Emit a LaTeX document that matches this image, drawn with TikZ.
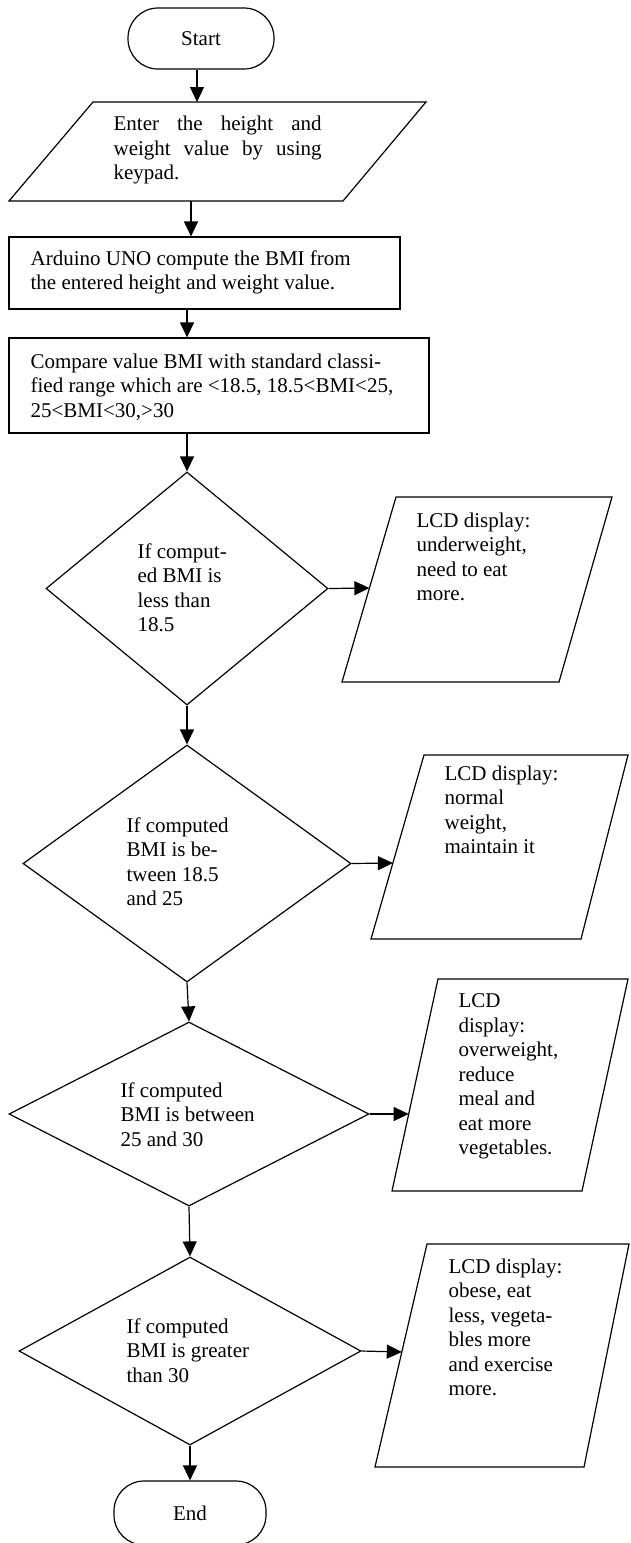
\documentclass[tikz,border=0pt]{standalone}
\usepackage{fontspec}
\setmainfont{Liberation Serif}
\usetikzlibrary{shapes.geometric,arrows.meta}
\begin{document}
\begin{tikzpicture}[x=1pt,y=-1pt,
  font=\fontsize{21}{24.5}\selectfont,
  line width=1.2pt,
  arr/.style={-{Triangle[length=15pt,width=14pt]}},
  term/.style={draw,rectangle,rounded corners=30pt,inner sep=0pt},
  proc/.style={draw,rectangle,inner sep=0pt},
  dec/.style={draw,diamond,inner sep=0pt},
  iobox/.style={line join=miter},
  txt/.style={anchor=north west,inner sep=0pt,align=left},
]
\useasboundingbox (0,0) rectangle (630,1543);

% terminals, processes, decisions
\node[term,minimum width=146pt,minimum height=61pt] (start) at (201,38.5) {Start};
\node[proc,minimum width=391pt,minimum height=72pt] (box1) at (204.5,273) {};
\node[proc,minimum width=420pt,minimum height=95pt] (box2) at (219,385.5) {};
\node[dec,minimum width=282pt,minimum height=233pt] (d1) at (187,588.5) {};
\node[dec,minimum width=328pt,minimum height=237pt] (d2) at (187,863.5) {};
\node[dec,minimum width=360pt,minimum height=184pt] (d3) at (189,1114) {};
\node[dec,minimum width=342pt,minimum height=188pt] (d4) at (190,1351) {};
\node[term,minimum width=152pt,minimum height=64pt] (end) at (190,1513) {End};

% input/output parallelograms
\coordinate (in-tl) at (93,102);  \coordinate (in-tr) at (426,102);
\coordinate (in-br) at (343,201); \coordinate (in-bl) at (9,201);
\draw[iobox] (in-tl) -- (in-tr) -- (in-br) -- (in-bl) -- cycle;
\coordinate (p1-tl) at (396,497); \coordinate (p1-tr) at (612,497);
\coordinate (p1-br) at (559,682); \coordinate (p1-bl) at (342,682);
\draw[iobox] (p1-tl) -- (p1-tr) -- (p1-br) -- (p1-bl) -- cycle;
\coordinate (p2-tl) at (424,755); \coordinate (p2-tr) at (628,755);
\coordinate (p2-br) at (581,939); \coordinate (p2-bl) at (371,939);
\draw[iobox] (p2-tl) -- (p2-tr) -- (p2-br) -- (p2-bl) -- cycle;
\coordinate (p3-tl) at (438,979); \coordinate (p3-tr) at (628,979);
\coordinate (p3-br) at (582,1191); \coordinate (p3-bl) at (392,1191);
\draw[iobox] (p3-tl) -- (p3-tr) -- (p3-br) -- (p3-bl) -- cycle;
\coordinate (p4-tl) at (427,1244); \coordinate (p4-tr) at (629,1244);
\coordinate (p4-br) at (584,1467); \coordinate (p4-bl) at (375,1467);
\draw[iobox] (p4-tl) -- (p4-tr) -- (p4-br) -- (p4-bl) -- cycle;

% texts
\node[txt] (tin) at (113,115.5) {\makebox[208pt][s]{Enter the height and}\\\makebox[208pt][s]{weight value by using}\\keypad.};
\node[txt] (tb1) at (30,250) {Arduino UNO compute the BMI from\\the entered height and weight value.};
\node[txt] (tb2) at (30,353) {Compare value BMI with standard classi-\\fied range which are <18.5, 18.5<BMI<25,\\25<BMI<30,>30};
\node[txt] (td1) at (137,543) {If comput-\\ed BMI is\\less than\\18.5};
\node[txt] (tp1) at (416,512) {LCD display:\\underweight,\\need to eat\\more.};
\node[txt] (td2) at (126,817) {If computed\\BMI is be-\\tween 18.5\\and 25};
\node[txt] (tp2) at (444,765) {LCD display:\\normal\\weight,\\maintain it};
\node[txt] (td3) at (120,1082) {If computed\\BMI is between\\25 and 30};
\node[txt] (tp3) at (458,993) {LCD\\display:\\overweight,\\reduce\\meal and\\eat more\\vegetables.};
\node[txt] (td4) at (126,1318) {If computed\\BMI is greater\\than 30};
\node[txt] (tp4) at (448,1258) {LCD display:\\obese, eat\\less, vegeta-\\bles more\\and exercise\\more.};

% arrow helpers
\coordinate (x1) at (197,0);
\coordinate (x2) at (191,0);
\coordinate (x3) at (187,0);
\coordinate (t1) at (369.4,588);
\coordinate (t2) at (392.9,863);
\coordinate (t3) at (408.7,1114);
\coordinate (t4) at (401.8,1352);

% connectors
\draw[arr] (start.south -| x1) -- (x1 |- in-tl);
\draw[arr] (x2 |- in-bl) -- (box1.north -| x2);
\draw[arr] (box1.south -| x3) -- (box2.north -| x3);
\draw[arr] (box2.south -| d1.north) -- (d1.north);
\draw[arr] (d1.south) -- (d2.north);
\draw[arr] (d2.south) -- (d3.north);
\draw[arr] (d3.south) -- (d4.north);
\draw[arr] (d4.south) -- (end.north);
\draw[arr] (d1.east) -- (t1);
\draw[arr] (d2.east) -- (t2);
\draw[arr] (d3.east) -- (t3);
\draw[arr] (d4.east) -- (t4);
\end{tikzpicture}
\end{document}
